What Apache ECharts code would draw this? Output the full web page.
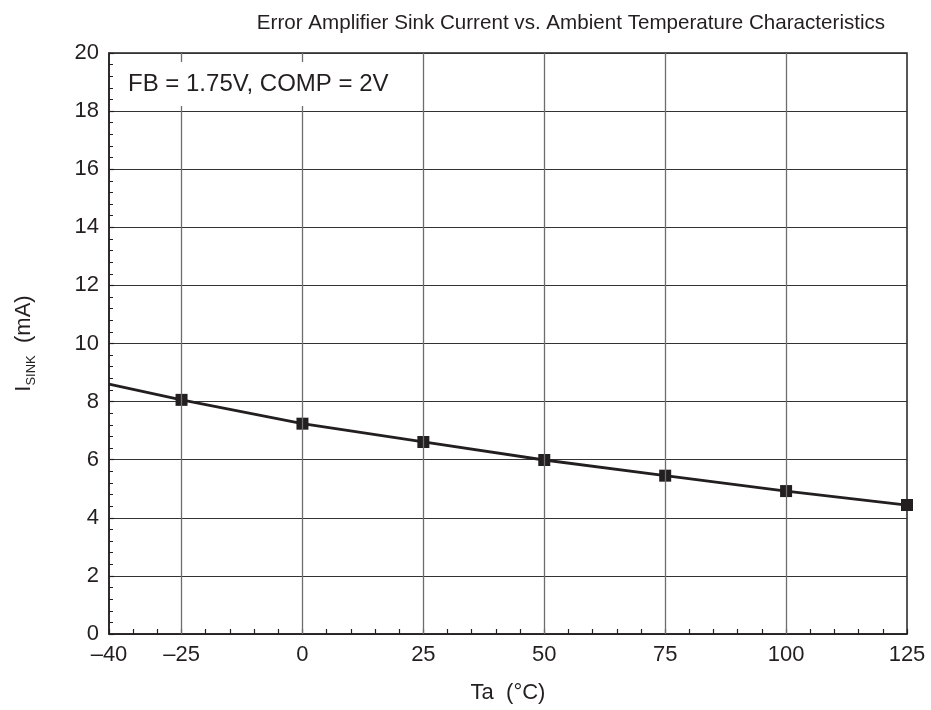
<!DOCTYPE html>
<html>
<head>
<meta charset="utf-8">
<script src="https://cdn.jsdelivr.net/npm/echarts@6/dist/echarts.min.js"></script>
<style>
  html, body { margin: 0; padding: 0; background: #fff; }
  #sink { width: 931px; height: 710px; }
</style>
</head>
<body>
<div id="sink"></div>
<script>
// Ta (°C) and sink current (mA); the -40 point only carries the line, no marker
const tempC = [-40, -25, 0, 25, 50, 75, 100, 125];
const sinkMA = [8.6, 8.06, 7.24, 6.61, 5.99, 5.45, 4.92, 4.44];
const xLabels = [-40, -25, 0, 25, 50, 75, 100, 125];
const xGrid = [-25, 0, 25, 50, 75, 100];

const ink = "#231f20";
const fontFam = "Liberation Sans, Arial, sans-serif";

let sinkChart = echarts.init(document.getElementById("sink"));

let seriesData = tempC.map(function (t, i) {
  let item = { value: [t, sinkMA[i]] };
  if (t === -40) {
    item.symbol = "none";
  }
  return item;
});

let sinkOption = {
  animation: false,
  backgroundColor: "#fff",
  textStyle: { fontFamily: fontFam, color: ink },
  title: {
    text: "Error Amplifier Sink Current vs. Ambient Temperature Characteristics",
    left: 566,
    top: 8,
    textAlign: "center",
    textStyle: {
      fontFamily: fontFam,
      fontSize: 20.6,
      fontWeight: "normal",
      color: ink
    }
  },
  grid: {
    left: 109,
    right: 24,
    top: 53,
    bottom: 76,
    show: true,
    borderColor: ink,
    borderWidth: 1.5,
    backgroundColor: "transparent"
  },
  graphic: [
    {
      type: "text",
      x: 122,
      y: 84,
      z: 50,
      style: {
        text: "FB = 1.75V, COMP = 2V",
        font: "24px " + fontFam,
        fill: ink,
        verticalAlign: "middle",
        backgroundColor: "#fff",
        padding: [9, 6, 11, 6]
      }
    }
  ],
  xAxis: {
    type: "value",
    min: -40,
    max: 125,
    interval: 5,
    name: "Ta  (\u00B0C)",
    nameLocation: "middle",
    nameGap: 48,
    nameTextStyle: { fontSize: 22, color: ink, fontFamily: fontFam },
    axisLine: { show: true, onZero: false, lineStyle: { color: ink, width: 1.5 } },
    axisTick: {
      show: true,
      inside: true,
      length: 5,
      lineStyle: { color: ink, width: 1.2 }
    },
    axisLabel: {
      fontSize: 22,
      color: ink,
      margin: 10,
      showMinLabel: true,
      showMaxLabel: true,
      formatter: function (v) {
        if (xLabels.indexOf(v) < 0) return "";
        return v < 0 ? "\u2013" + Math.abs(v) : String(v);
      }
    },
    splitLine: { show: false }
  },
  yAxis: {
    type: "value",
    min: 0,
    max: 20,
    interval: 2,
    name: "{a|I}{b|SINK}{c|  (mA)}",
    nameLocation: "middle",
    nameRotate: 90,
    nameGap: 74,
    nameTextStyle: {
      color: ink,
      rich: {
        a: { fontSize: 22, fontFamily: fontFam, color: ink, lineHeight: 26, verticalAlign: "bottom" },
        b: { fontSize: 13, fontFamily: fontFam, color: ink, lineHeight: 26, verticalAlign: "bottom", padding: [0, 0, -3, 0] },
        c: { fontSize: 22, fontFamily: fontFam, color: ink, lineHeight: 26, verticalAlign: "bottom" }
      }
    },
    axisLine: { show: true, onZero: false, lineStyle: { color: ink, width: 1.5 } },
    axisTick: {
      show: true,
      inside: true,
      length: 5,
      lineStyle: { color: ink, width: 1.2 }
    },
    minorTick: {
      show: true,
      splitNumber: 5,
      length: 4,
      lineStyle: { color: ink, width: 1 }
    },
    axisLabel: { fontSize: 22, color: ink, margin: 10 },
    splitLine: { show: true, lineStyle: { color: "#333", width: 1.2 } }
  },
  series: [
    {
      // vertical grid lines only at the labelled temperatures
      type: "line",
      data: [],
      z: 1,
      silent: true,
      markLine: {
        silent: true,
        symbol: ["none", "none"],
        label: { show: false },
        lineStyle: { type: "solid", color: "#6d6d6d", width: 1.3 },
        data: xGrid.map(function (x) {
          return { xAxis: x };
        })
      }
    },
    {
      name: "ISINK",
      type: "line",
      z: 3,
      data: seriesData,
      symbol: "rect",
      symbolSize: 12,
      showAllSymbol: true,
      lineStyle: { color: ink, width: 2.8 },
      itemStyle: { color: ink }
    }
  ]
};
sinkChart.setOption(sinkOption);
</script>
</body>
</html>
